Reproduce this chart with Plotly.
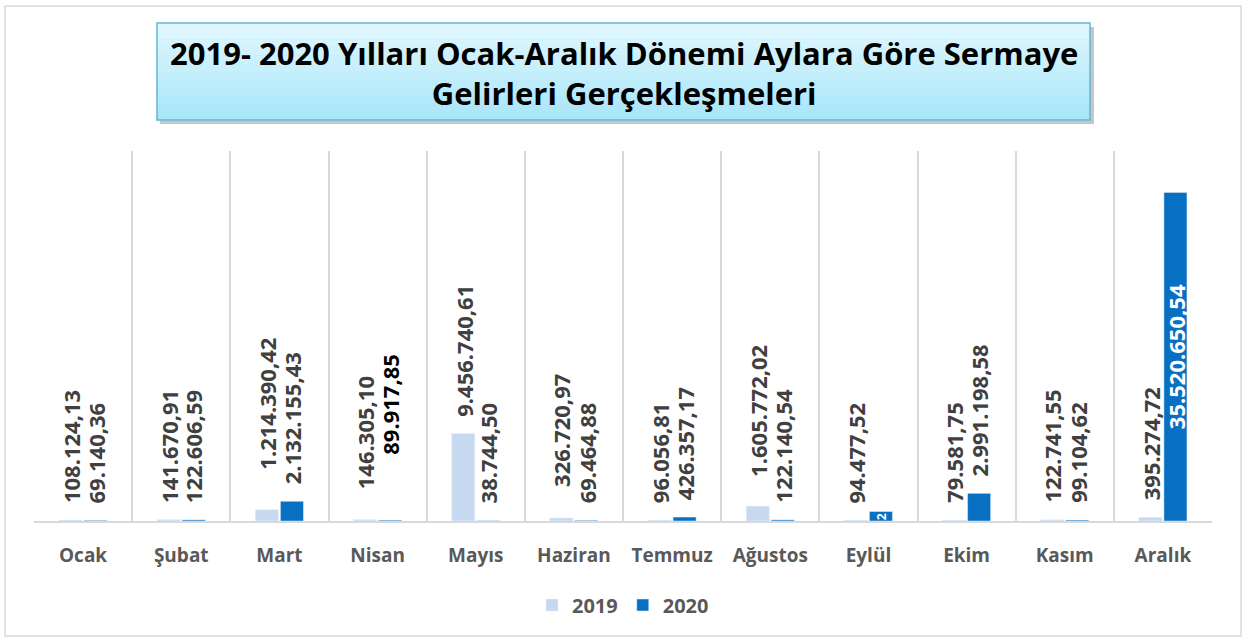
import plotly.graph_objects as go

months = ["Ocak", "Şubat", "Mart", "Nisan", "Mayıs", "Haziran",
          "Temmuz", "Ağustos", "Eylül", "Ekim", "Kasım", "Aralık"]
values_2019 = [108124.13, 141670.91, 1214390.42, 146305.10, 9456740.61, 326720.97,
               96056.81, 1605772.02, 94477.52, 79581.75, 122741.55, 395274.72]
values_2020 = [69140.36, 122606.59, 2132155.43, 89917.85, 38744.50, 69464.88,
               426357.17, 122140.54, 1025000.00, 2991198.58, 99104.62, 35520650.54]
labels_2019 = ["108.124,13", "141.670,91", "1.214.390,42", "146.305,10", "9.456.740,61",
               "326.720,97", "96.056,81", "1.605.772,02", "94.477,52", "79.581,75",
               "122.741,55", "395.274,72"]
labels_2020 = ["69.140,36", "122.606,59", "2.132.155,43", "89.917,85", "38.744,50",
               "69.464,88", "426.357,17", "122.140,54", "2", "2.991.198,58",
               "99.104,62", "35.520.650,54"]

W, H = 1248, 639
L, R, T, B = 34, 1212, 151, 521


def px(x):
    return (x - L) / (R - L)


def py(y):
    return (B - y) / (B - T)


C2019 = "#C6D9F0"
C2020 = "#0870C2"
GRID = "#D9D9D9"
LABEL = "#404040"

fig = go.Figure()
fig.add_trace(go.Bar(x=months, y=values_2019, name="2019", marker_color=C2019))
fig.add_trace(go.Bar(x=months, y=values_2020, name="2020", marker_color=C2020))

bargap, groupgap = 0.49, 0.08
cat_w = (R - L) / len(months)
slot = cat_w * (1 - bargap) / 2
offsets = [-slot / 2, slot / 2]

# a few labels were moved by hand in the original
nudge = {("Mart", 0): 23, ("Nisan", 0): 13, ("Nisan", 1): 48,
         ("Haziran", 0): 14, ("Ağustos", 0): 12}

annotations = []
for s, (vals, labs) in enumerate([(values_2019, labels_2019), (values_2020, labels_2020)]):
    for m, v, t in zip(months, vals, labs):
        if m in ("Aralık", "Eylül") and s == 1:
            # inside the bar, white
            annotations.append(dict(
                x=m, y=v / 2, text=t, showarrow=False, textangle=-90,
                xshift=offsets[s], yanchor="middle",
                font=dict(family="Open Sans", size=22 if m == "Aralık" else 12,
                          color="white", weight="bold")))
            continue
        annotations.append(dict(
            x=m, y=v, text=t, showarrow=False, textangle=-90,
            xshift=offsets[s], yanchor="bottom", yshift=15 + nudge.get((m, s), 0),
            font=dict(family="Open Sans", size=22, weight="bold",
                      color="black" if (m, s) == ("Nisan", 1) else LABEL)))

annotations.append(dict(
    xref="paper", yref="paper", x=px(623.5), y=py(73), showarrow=False,
    text="2019- 2020 Yılları Ocak-Aralık Dönemi Aylara Göre Sermaye<br>Gelirleri Gerçekleşmeleri",
    font=dict(family="Open Sans", size=31, color="black", weight="bold"),
    align="center", xanchor="center", yanchor="middle"))

shapes = [
    # outer frame
    dict(type="rect", xref="paper", yref="paper", x0=px(5), x1=px(1241), y0=py(636), y1=py(6),
         line=dict(color=GRID, width=1.5), fillcolor="rgba(0,0,0,0)", layer="below"),
    # title box shadow
    dict(type="rect", xref="paper", yref="paper", x0=px(160), x1=px(1094), y0=py(124), y1=py(27),
         line=dict(width=0), fillcolor="rgba(0,0,0,0.22)", layer="above"),
]
# title box gradient bands
top_c, bot_c = (227, 248, 254), (166, 229, 250)
n = 12
y_top, y_bot = 23, 120
for i in range(n):
    f = (i + 0.5) / n
    c = tuple(round(top_c[k] + (bot_c[k] - top_c[k]) * f) for k in range(3))
    shapes.append(dict(type="rect", xref="paper", yref="paper",
                       x0=px(157), x1=px(1090),
                       y0=py(y_top + (y_bot - y_top) * (i + 1) / n + 0.5),
                       y1=py(y_top + (y_bot - y_top) * i / n),
                       line=dict(width=0), fillcolor="rgb(%d,%d,%d)" % c, layer="above"))
shapes.append(dict(type="rect", xref="paper", yref="paper", x0=px(157), x1=px(1090),
                   y0=py(120), y1=py(23), line=dict(color="#62B6D3", width=1.5),
                   fillcolor="rgba(0,0,0,0)", layer="above"))

fig.update_layout(
    width=W, height=H,
    margin=dict(l=L, r=W - R, t=T, b=H - B),
    paper_bgcolor="white", plot_bgcolor="white",
    barmode="group", bargap=bargap, bargroupgap=groupgap,
    font=dict(family="Open Sans", color="#595959"),
    xaxis=dict(type="category", tickson="boundaries", showgrid=True, gridcolor=GRID,
               gridwidth=1.5, showline=True, linecolor=GRID, linewidth=1.5, ticks="",
               ticklabelstandoff=16,
               tickfont=dict(family="Open Sans", size=19, color="#595959", weight="bold")),
    yaxis=dict(range=[0, 40e6], showgrid=False, showticklabels=False, zeroline=False),
    legend=dict(orientation="h", x=0.5, xanchor="center", y=py(605), yanchor="middle",
                font=dict(family="Open Sans", size=20, color="#595959", weight="bold"),
                itemwidth=30),
    showlegend=True,
    annotations=annotations,
    shapes=shapes,
)

fig.write_html("out.html", config={"displayModeBar": False},
               post_script="document.body.style.margin='0';")
